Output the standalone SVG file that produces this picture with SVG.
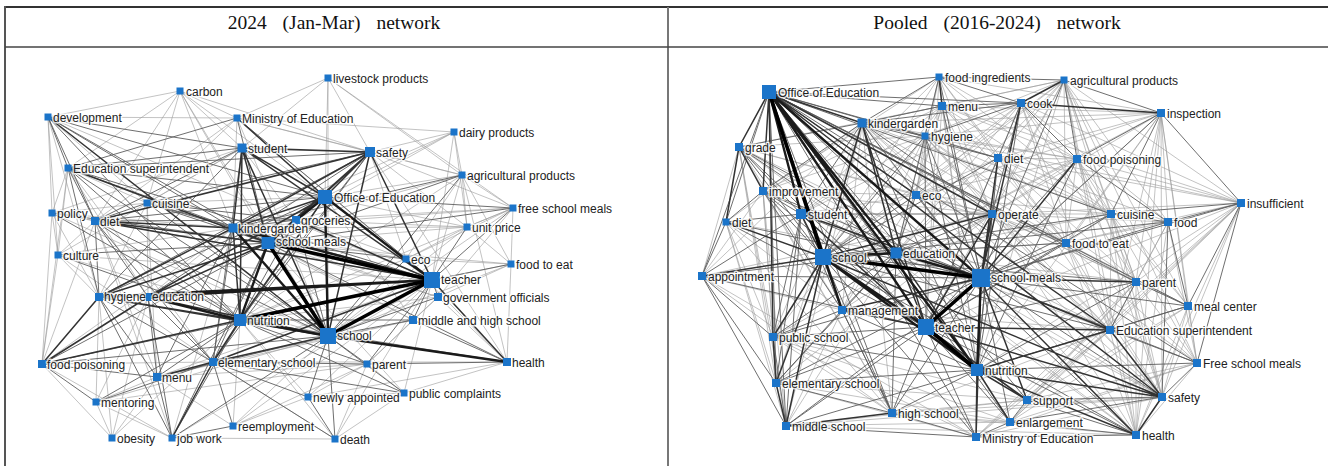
<svg xmlns="http://www.w3.org/2000/svg" width="1328" height="466" viewBox="0 0 1328 466">
<style>
.e0{fill:none;stroke:#9a9a9a;stroke-width:.6}
.e1{fill:none;stroke:#5e5e5e;stroke-width:.9}
.e2{fill:none;stroke:#333;stroke-width:1.5}
.e3{fill:none;stroke:#1a1a1a;stroke-width:2.4}
.e4{fill:none;stroke:#000;stroke-width:3.6}
.nd{fill:#1b74c9}
.lb{font-family:"Liberation Sans",Arial,sans-serif;font-size:12px;fill:#222;stroke:#fff;stroke-width:3;stroke-opacity:.8;paint-order:stroke;stroke-linejoin:round}
.hd{font-family:"Liberation Serif","Times New Roman",serif;font-size:19.5px;fill:#111;word-spacing:11px}
.tb{stroke-width:2;fill:none}
</style>
<rect width="1328" height="466" fill="#fff"/>
<g id="table">
<line class="tb" x1="4" y1="7" x2="1328" y2="7" stroke="#333"/>
<line class="tb" x1="5" y1="6" x2="5" y2="466" stroke="#555"/>
<line class="tb" x1="668" y1="7" x2="668" y2="466" stroke="#777"/>
<line x1="5" y1="47" x2="1328" y2="47" stroke="#444" stroke-width="1.5"/>
<text class="hd" x="334" y="29" text-anchor="middle">2024 (Jan-Mar) network</text>
<text class="hd" x="997" y="29" text-anchor="middle">Pooled (2016-2024) network</text>
</g>
<g id="connectors-left">
<path class="e0" d="M180 91L237 118M180 91L48 117M180 91L242 148M180 91L68 168M180 91L95 221M180 91L325 197M180 91L268 243M180 91L147 203M180 91L233 228M180 91L328 336M48 117L237 118M48 117L147 203M48 117L52 213M48 117L99 297M48 117L58 255M48 117L432 280M237 118L328 78M237 118L147 203M237 118L95 221M237 118L462 175M237 118L454 132M237 118L370 152M237 118L233 228M237 118L328 336M237 118L406 259M328 78L370 152M328 78L462 175M328 78L513 208M328 78L328 336M328 78L242 148M328 78L325 197M454 132L462 175M454 132L370 152M454 132L296 220M454 132L467 227M454 132L325 197M454 132L432 280M454 132L233 228M462 175L513 208M462 175L467 227M462 175L511 264M462 175L406 259M462 175L296 220M462 175L432 280M462 175L325 197M462 175L370 152M462 175L240 320M462 175L507 362M513 208L467 227M513 208L406 259M513 208L511 264M513 208L296 220M513 208L233 228M513 208L328 336M513 208L240 320M513 208L438 297M467 227L511 264M467 227L406 259M467 227L296 220M467 227L328 336M467 227L325 197M467 227L233 228M467 227L268 243M511 264L406 259M511 264L438 297M511 264L328 336M511 264L240 320M511 264L268 243M511 264L507 362M507 362L404 393M507 362L438 297M507 362L308 397M507 362L406 259M507 362L213 362M404 393L367 364M404 393L335 439M404 393L308 397M404 393L432 280M404 393L268 243M335 439L367 364M335 439L213 362M335 439L172 438M335 439L240 320M335 439L432 280M233 426L308 397M233 426L240 320M233 426L328 336M233 426L157 377M233 426L367 364M233 426L432 280M172 438L96 402M172 438L42 364M172 438L432 280M172 438L233 228M172 438L95 221M112 438L96 402M112 438L42 364M112 438L157 377M112 438L99 297M112 438L240 320M112 438L148 297M96 402L99 297M96 402L157 377M96 402L148 297M96 402L367 364M96 402L328 336M42 364L58 255M42 364L52 213M42 364L95 221M42 364L213 362M42 364L233 228M42 364L68 168M157 377L95 221M157 377L147 203M157 377L432 280M157 377L367 364M157 377L413 320M58 255L52 213M58 255L95 221M58 255L99 297M58 255L68 168M58 255L233 228M58 255L328 336M58 255L432 280M58 255L213 362M52 213L68 168M52 213L95 221M52 213L99 297M52 213L233 228M52 213L328 336M52 213L432 280M52 213L147 203M147 203L68 168M147 203L148 297M147 203L99 297M147 203L325 197M68 168L148 297M68 168L213 362M99 297L148 297M148 297L233 228M213 362L413 320M308 397L367 364M308 397L432 280M308 397L240 320M367 364L413 320M367 364L438 297M413 320L438 297M413 320L325 197M413 320L268 243M413 320L233 228M438 297L240 320M438 297L268 243M438 297L233 228M406 259L296 220M406 259L233 228M406 259L240 320M370 152L467 227M370 152L406 259M370 152L507 362M370 152L513 208M370 152L180 91M242 148L147 203M242 148L296 220M242 148L58 255M242 148L52 213"/>
<path class="e1" d="M48 117L233 228M48 117L268 243M48 117L240 320M48 117L242 148M48 117L68 168M48 117L95 221M68 168L233 228M68 168L240 320M68 168L328 336M68 168L432 280M68 168L325 197M68 168L95 221M68 168L99 297M147 203L268 243M147 203L432 280M147 203L328 336M147 203L95 221M147 203L296 220M147 203L233 228M95 221L296 220M95 221L328 336M95 221L240 320M95 221L99 297M95 221L148 297M95 221L213 362M52 213L268 243M52 213L240 320M58 255L240 320M58 255L268 243M99 297L213 362M99 297L157 377M99 297L172 438M148 297L213 362M148 297L157 377M148 297L172 438M42 364L268 243M42 364L328 336M42 364L432 280M42 364L157 377M157 377L240 320M157 377L328 336M157 377L233 228M157 377L172 438M172 438L240 320M172 438L328 336M172 438L268 243M213 362L268 243M213 362L233 228M213 362L367 364M213 362L335 439M367 364L328 336M367 364L432 280M367 364L507 362M367 364L240 320M413 320L328 336M413 320L432 280M413 320L507 362M413 320L240 320M438 297L432 280M438 297L328 336M507 362L240 320M507 362L268 243M404 393L240 320M404 393L328 336M404 393L213 362M308 397L328 336M308 397L213 362M335 439L328 336M335 439L308 397M233 426L213 362M233 426L172 438M237 118L68 168M237 118L268 243M237 118L432 280M242 148L68 168M242 148L213 362M242 148L99 297M242 148L95 221M370 152L68 168M370 152L147 203M370 152L213 362M370 152L99 297M370 152L240 320M370 152L148 297M325 197L296 220M325 197L95 221M325 197L99 297M325 197L213 362M325 197L513 208M325 197L48 117M296 220L328 336M296 220L240 320M296 220L233 228M406 259L328 336M406 259L325 197M406 259L268 243M462 175L233 228M462 175L328 336M462 175L268 243M513 208L268 243M513 208L432 280M467 227L432 280M511 264L432 280M96 402L240 320M96 402L213 362M96 402L42 364"/>
<path class="e2" d="M370 152L242 148M370 152L233 228M370 152L268 243M370 152L325 197M370 152L95 221M370 152L296 220M242 148L233 228M242 148L268 243M242 148L240 320M325 197L233 228M325 197L240 320M325 197L242 148M325 197L148 297M328 336L148 297M328 336L99 297M328 336L242 148M328 336L370 152M328 336L213 362M268 243L233 228M268 243L148 297M268 243L99 297M268 243L95 221M240 320L99 297M240 320L213 362M240 320L233 228M240 320L42 364M432 280L213 362M432 280L95 221M432 280L296 220M432 280L242 148M432 280L370 152M432 280L507 362M237 118L325 197M213 362L157 377M213 362L172 438M233 228L95 221M233 228L99 297M148 297L42 364M99 297L42 364M48 117L328 336M68 168L268 243"/>
<path class="e3" d="M432 280L148 297M432 280L233 228M328 336L240 320M328 336L325 197M328 336L507 362M325 197L268 243M268 243L240 320M432 280L325 197M328 336L233 228M240 320L148 297M432 280L99 297"/>
<path class="e4" d="M432 280L328 336M432 280L268 243M432 280L240 320M328 336L268 243"/>
</g>
<g id="connectors-right">
<path class="e0" d="M1241 203L1064 80M1241 203L1021 103M1241 203L1077 159M1241 203L1066 243M1241 203L1136 282M1241 203L1110 330M1241 203L1162 397M1241 203L1136 435M1241 203L992 214M1241 203L998 158M1241 203L1027 400M1241 203L977 370M1241 203L926 327M1241 203L1010 422M1241 203L976 437M1241 203L925 136M1241 203L942 106M1161 113L939 77M1161 113L942 106M1161 113L862 123M1161 113L925 136M1161 113L998 158M1161 113L992 214M1161 113L1168 222M1161 113L1066 243M1161 113L1136 282M1161 113L1188 306M1161 113L1110 330M1161 113L1197 363M1161 113L1162 397M1161 113L1136 435M1161 113L926 327M1161 113L896 253M1161 113L916 195M1161 113L977 370M1064 80L942 106M1064 80L862 123M1064 80L925 136M1064 80L998 158M1064 80L992 214M1064 80L1111 214M1064 80L1168 222M1064 80L1066 243M1064 80L1136 282M1064 80L1188 306M1064 80L1110 330M1064 80L1197 363M1064 80L1162 397M1064 80L1136 435M1064 80L926 327M1064 80L977 370M1064 80L896 253M1064 80L916 195M1064 80L823 257M939 77L998 158M939 77L1077 159M939 77L992 214M939 77L916 195M939 77L896 253M939 77L823 257M939 77L801 214M939 77L763 191M939 77L926 327M939 77L977 370M939 77L1111 214M939 77L1066 243M1021 103L1111 214M1021 103L1168 222M1021 103L1066 243M1021 103L916 195M1021 103L896 253M1021 103L801 214M1021 103L823 257M1021 103L926 327M1021 103L1136 282M1021 103L1110 330M942 106L925 136M942 106L998 158M942 106L1077 159M942 106L992 214M942 106L916 195M942 106L896 253M942 106L801 214M942 106L823 257M942 106L763 191M942 106L739 147M942 106L926 327M942 106L977 370M942 106L1111 214M942 106L1066 243M862 123L726 222M862 123L916 195M862 123L1077 159M862 123L1111 214M862 123L1066 243M862 123L773 337M862 123L776 383M862 123L786 426M862 123L892 413M862 123L842 310M862 123L702 276M862 123L1110 330M862 123L1162 397M862 123L1136 435M925 136L998 158M925 136L1077 159M925 136L916 195M925 136L992 214M925 136L801 214M925 136L763 191M925 136L739 147M925 136L1111 214M925 136L1066 243M925 136L1136 282M925 136L1110 330M925 136L1162 397M925 136L842 310M925 136L773 337M739 147L702 276M739 147L773 337M739 147L776 383M739 147L786 426M739 147L916 195M739 147L842 310M739 147L892 413M739 147L1162 397M739 147L1110 330M739 147L1136 435M739 147L992 214M763 191L702 276M763 191L773 337M763 191L776 383M763 191L786 426M763 191L916 195M763 191L892 413M763 191L992 214M726 222L773 337M726 222L776 383M726 222L786 426M726 222L896 253M726 222L842 310M726 222L892 413M702 276L842 310M702 276L892 413M702 276L976 437M702 276L992 214M773 337L892 413M773 337L976 437M773 337L1010 422M773 337L1027 400M773 337L992 214M776 383L976 437M776 383L1010 422M776 383L1027 400M776 383L992 214M786 426L1010 422M786 426L1027 400M786 426L842 310M786 426L896 253M786 426L1136 435M786 426L1162 397M892 413L1010 422M892 413L1027 400M892 413L1136 435M892 413L1162 397M892 413L1110 330M976 437L1162 397M976 437L1110 330M976 437L1197 363M976 437L1136 282M1010 422L1110 330M1010 422L1197 363M1010 422L1136 282M1010 422L1188 306M1027 400L1110 330M1027 400L1197 363M1027 400L1136 282M1027 400L1188 306M1136 435L1110 330M1136 435L1197 363M1136 435L1188 306M1136 435L1136 282M1136 435L1066 243M1136 435L1111 214M1136 435L1168 222M1136 435L992 214M1136 435L896 253M1162 397L1188 306M1162 397L1136 282M1162 397L1066 243M1162 397L1111 214M1162 397L992 214M1162 397L896 253M1162 397L1077 159M1162 397L998 158M1197 363L1188 306M1197 363L1136 282M1197 363L1066 243M1197 363L1111 214M1197 363L1168 222M1197 363L992 214M1188 306L1066 243M1188 306L1111 214M1188 306L992 214M1188 306L1077 159M1110 330L1066 243M1110 330L1111 214M1110 330L1168 222M1110 330L992 214M1110 330L896 253M1110 330L842 310M1136 282L1066 243M1136 282L1111 214M1136 282L1168 222M1136 282L992 214M1136 282L1077 159M1136 282L998 158M1136 282L896 253M1066 243L1111 214M1066 243L1168 222M1066 243L992 214M1066 243L1077 159M1066 243L998 158M1066 243L896 253M1066 243L916 195M1168 222L992 214M1168 222L998 158M1111 214L992 214M1111 214L1077 159M1111 214L998 158M1111 214L896 253M1111 214L916 195M1077 159L998 158M1077 159L992 214M1077 159L916 195M1077 159L896 253M998 158L992 214M998 158L916 195M998 158L896 253M992 214L916 195M992 214L842 310M916 195L801 214M916 195L842 310"/>
<path class="e1" d="M769 92L726 222M769 92L702 276M769 92L776 383M769 92L786 426M769 92L925 136M769 92L942 106M769 92L939 77M769 92L916 195M769 92L1111 214M769 92L1066 243M769 92L1136 282M769 92L1136 435M769 92L1027 400M769 92L1010 422M769 92L976 437M769 92L892 413M769 92L1188 306M769 92L1197 363M769 92L998 158M769 92L1021 103M823 257L763 191M823 257L739 147M823 257L892 413M823 257L925 136M823 257L916 195M823 257L1066 243M823 257L1136 282M823 257L1110 330M823 257L1136 435M823 257L1027 400M823 257L976 437M823 257L1111 214M823 257L1168 222M823 257L998 158M981 278L862 123M981 278L925 136M981 278L942 106M981 278L939 77M981 278L1064 80M981 278L1161 113M981 278L1111 214M981 278L1168 222M981 278L1066 243M981 278L1188 306M981 278L1197 363M981 278L1162 397M981 278L1010 422M981 278L773 337M981 278L776 383M981 278L892 413M981 278L786 426M981 278L702 276M981 278L726 222M981 278L739 147M981 278L763 191M981 278L916 195M981 278L1241 203M926 327L925 136M926 327L1136 282M926 327L1136 435M926 327L1010 422M926 327L976 437M926 327L892 413M926 327L776 383M926 327L773 337M926 327L786 426M926 327L702 276M926 327L1077 159M926 327L1066 243M926 327L1111 214M926 327L998 158M926 327L763 191M926 327L739 147M926 327L726 222M977 370L1136 282M977 370L1188 306M977 370L1197 363M977 370L892 413M977 370L862 123M977 370L925 136M977 370L1021 103M977 370L998 158M977 370L1077 159M977 370L992 214M977 370L842 310M977 370L776 383M977 370L773 337M977 370L786 426M896 253L801 214M896 253L842 310M896 253L925 136M896 253L916 195M896 253L992 214M896 253L763 191M896 253L739 147M896 253L702 276M896 253L773 337M896 253L776 383M896 253L892 413M801 214L842 310M801 214L862 123M801 214L763 191M801 214L739 147M801 214L726 222M801 214L702 276M801 214L773 337M801 214L776 383M801 214L786 426M801 214L992 214M862 123L925 136M862 123L942 106M862 123L739 147M862 123L763 191M862 123L992 214M862 123L998 158M862 123L1021 103M939 77L1021 103M939 77L1064 80M939 77L862 123M939 77L925 136M1021 103L942 106M1021 103L925 136M1021 103L998 158M1021 103L1077 159M1021 103L992 214M1064 80L1161 113M1064 80L1077 159M1161 113L1077 159M1161 113L1111 214M1161 113L1241 203M1241 203L1168 222M1241 203L1111 214M1241 203L1188 306M1241 203L1197 363M1168 222L1111 214M1168 222L1077 159M1168 222L1162 397M1168 222L1188 306M1188 306L1136 282M1188 306L1110 330M1197 363L1110 330M1197 363L1162 397M1136 282L1110 330M1162 397L1027 400M1162 397L1010 422M1136 435L1010 422M1136 435L1027 400M1136 435L976 437M1010 422L1027 400M1010 422L976 437M976 437L892 413M976 437L786 426M892 413L776 383M892 413L842 310M786 426L773 337M786 426L702 276M776 383L702 276M773 337L702 276M702 276L726 222M726 222L763 191M763 191L842 310M842 310L773 337M842 310L776 383M842 310L892 413"/>
<path class="e2" d="M769 92L763 191M769 92L739 147M769 92L773 337M769 92L862 123M769 92L992 214M769 92L1110 330M769 92L1162 397M823 257L801 214M823 257L842 310M823 257L702 276M823 257L773 337M823 257L776 383M823 257L786 426M823 257L726 222M823 257L862 123M823 257L992 214M823 257L1162 397M981 278L1136 282M981 278L992 214M981 278L1021 103M981 278L998 158M981 278L1077 159M981 278L1110 330M981 278L1136 435M981 278L1027 400M981 278L976 437M981 278L842 310M981 278L801 214M926 327L842 310M926 327L801 214M926 327L862 123M926 327L992 214M926 327L1110 330M926 327L1162 397M926 327L1027 400M926 327L896 253M977 370L1027 400M977 370L1010 422M977 370L976 437M977 370L1136 435M977 370L1162 397M977 370L1110 330M977 370L896 253M862 123L896 253M1161 113L1021 103M1064 80L1021 103M939 77L942 106M739 147L763 191M739 147L726 222M773 337L776 383M776 383L786 426M786 426L892 413M1162 397L1110 330M1162 397L1136 435"/>
<path class="e3" d="M769 92L981 278M769 92L896 253M769 92L926 327M823 257L926 327M823 257L896 253M981 278L977 370M896 253L981 278M823 257L977 370M769 92L977 370M769 92L842 310M769 92L801 214"/>
<path class="e4" d="M823 257L981 278M981 278L926 327M926 327L977 370M769 92L823 257"/>
</g>
<g id="nodes-left">
<g id="l-carbon"><rect class="nd" x="176.5" y="87.5" width="7" height="7"/><text class="lb" x="186" y="96">carbon</text></g>
<g id="l-livestock-products"><rect class="nd" x="324.5" y="74.5" width="7" height="7"/><text class="lb" x="333" y="83">livestock products</text></g>
<g id="l-development"><rect class="nd" x="44.5" y="113.5" width="7" height="7"/><text class="lb" x="53" y="122">development</text></g>
<g id="l-ministry"><rect class="nd" x="233.5" y="114.5" width="7" height="7"/><text class="lb" x="242" y="123">Ministry of Education</text></g>
<g id="l-student"><rect class="nd" x="237.5" y="143.5" width="9" height="9"/><text class="lb" x="248" y="153">student</text></g>
<g id="l-dairy"><rect class="nd" x="450.5" y="128.5" width="7" height="7"/><text class="lb" x="459" y="137">dairy products</text></g>
<g id="l-safety"><rect class="nd" x="365" y="147" width="10" height="10"/><text class="lb" x="376" y="157">safety</text></g>
<g id="l-edusup"><rect class="nd" x="64.5" y="164.5" width="7" height="7"/><text class="lb" x="73" y="173">Education superintendent</text></g>
<g id="l-agri"><rect class="nd" x="458.5" y="171.5" width="7" height="7"/><text class="lb" x="467" y="180">agricultural products</text></g>
<g id="l-office"><rect class="nd" x="318" y="190" width="14" height="14"/><text class="lb" x="334" y="202">Office of Education</text></g>
<g id="l-cuisine"><rect class="nd" x="143.5" y="199.5" width="7" height="7"/><text class="lb" x="152" y="208">cuisine</text></g>
<g id="l-freemeals"><rect class="nd" x="509.5" y="204.5" width="7" height="7"/><text class="lb" x="518" y="213">free school meals</text></g>
<g id="l-policy"><rect class="nd" x="48.5" y="209.5" width="7" height="7"/><text class="lb" x="57" y="218">policy</text></g>
<g id="l-diet"><rect class="nd" x="91" y="217" width="8" height="8"/><text class="lb" x="100" y="226">diet</text></g>
<g id="l-groceries"><rect class="nd" x="292" y="216" width="8" height="8"/><text class="lb" x="301" y="225">groceries</text></g>
<g id="l-unitprice"><rect class="nd" x="463.5" y="223.5" width="7" height="7"/><text class="lb" x="472" y="232">unit price</text></g>
<g id="l-kindergarden"><rect class="nd" x="228.5" y="223.5" width="9" height="9"/><text class="lb" x="238" y="233">kindergarden</text></g>
<g id="l-schoolmeals"><rect class="nd" x="261.5" y="237" width="13" height="12"/><text class="lb" x="276" y="246">school meals</text></g>
<g id="l-culture"><rect class="nd" x="54.5" y="251.5" width="7" height="7"/><text class="lb" x="63" y="260">culture</text></g>
<g id="l-eco"><rect class="nd" x="402.5" y="255.5" width="7" height="7"/><text class="lb" x="411" y="264">eco</text></g>
<g id="l-foodtoeat"><rect class="nd" x="507.5" y="260.5" width="7" height="7"/><text class="lb" x="516" y="269">food to eat</text></g>
<g id="l-teacher"><rect class="nd" x="424" y="272" width="16" height="16"/><text class="lb" x="441" y="284">teacher</text></g>
<g id="l-hygiene"><rect class="nd" x="95" y="293" width="8" height="8"/><text class="lb" x="104" y="301">hygiene</text></g>
<g id="l-education"><rect class="nd" x="146" y="293" width="5" height="8"/><text class="lb" x="152" y="301">education</text></g>
<g id="l-govofficials"><rect class="nd" x="434" y="293" width="8" height="8"/><text class="lb" x="443" y="302">government officials</text></g>
<g id="l-nutrition"><rect class="nd" x="234" y="314" width="12" height="12"/><text class="lb" x="247" y="325">nutrition</text></g>
<g id="l-middlehigh"><rect class="nd" x="409" y="316" width="8" height="8"/><text class="lb" x="418" y="325">middle and high school</text></g>
<g id="l-school"><rect class="nd" x="320" y="328" width="16" height="16"/><text class="lb" x="337" y="340">school</text></g>
<g id="l-foodpoisoning"><rect class="nd" x="38" y="360" width="8" height="8"/><text class="lb" x="47" y="369">food poisoning</text></g>
<g id="l-elementary"><rect class="nd" x="209" y="358" width="8" height="8"/><text class="lb" x="218" y="367">elementary school</text></g>
<g id="l-parent"><rect class="nd" x="363.5" y="360.5" width="7" height="7"/><text class="lb" x="372" y="369">parent</text></g>
<g id="l-health"><rect class="nd" x="503" y="358" width="8" height="8"/><text class="lb" x="512" y="367">health</text></g>
<g id="l-menu"><rect class="nd" x="153" y="373" width="8" height="8"/><text class="lb" x="162" y="382">menu</text></g>
<g id="l-publiccomplaints"><rect class="nd" x="400.5" y="389.5" width="7" height="7"/><text class="lb" x="409" y="398">public complaints</text></g>
<g id="l-newly"><rect class="nd" x="304.5" y="393.5" width="7" height="7"/><text class="lb" x="313" y="402">newly appointed</text></g>
<g id="l-mentoring"><rect class="nd" x="92.5" y="398.5" width="7" height="7"/><text class="lb" x="101" y="407">mentoring</text></g>
<g id="l-reemployment"><rect class="nd" x="229.5" y="422.5" width="7" height="7"/><text class="lb" x="238" y="431">reemployment</text></g>
<g id="l-obesity"><rect class="nd" x="108.5" y="434.5" width="7" height="7"/><text class="lb" x="117" y="443">obesity</text></g>
<g id="l-jobwork"><rect class="nd" x="168.5" y="434.5" width="7" height="7"/><text class="lb" x="177" y="443">job work</text></g>
<g id="l-death"><rect class="nd" x="331.5" y="435.5" width="7" height="7"/><text class="lb" x="340" y="444">death</text></g>
</g>
<g id="nodes-right">
<g id="r-foodingredients"><rect class="nd" x="935.5" y="73.5" width="7" height="7"/><text class="lb" x="945" y="82">food ingredients</text></g>
<g id="r-agri"><rect class="nd" x="1060.5" y="76.5" width="7" height="7"/><text class="lb" x="1070" y="85">agricultural products</text></g>
<g id="r-office"><rect class="nd" x="762" y="85" width="14" height="14"/><text class="lb" x="778" y="97">Office of Education</text></g>
<g id="r-cook"><rect class="nd" x="1017" y="99" width="8" height="8"/><text class="lb" x="1027" y="108">cook</text></g>
<g id="r-menu"><rect class="nd" x="938" y="102" width="8" height="8"/><text class="lb" x="948" y="111">menu</text></g>
<g id="r-inspection"><rect class="nd" x="1157" y="109" width="8" height="8"/><text class="lb" x="1167" y="118">inspection</text></g>
<g id="r-kindergarden"><rect class="nd" x="857.5" y="118.5" width="9" height="9"/><text class="lb" x="868" y="128">kindergarden</text></g>
<g id="r-hygiene"><rect class="nd" x="921.5" y="132.5" width="7" height="7"/><text class="lb" x="931" y="141">hygiene</text></g>
<g id="r-grade"><rect class="nd" x="735" y="143" width="8" height="8"/><text class="lb" x="745" y="152">grade</text></g>
<g id="r-diet2"><rect class="nd" x="994" y="154" width="8" height="8"/><text class="lb" x="1004" y="163">diet</text></g>
<g id="r-foodpoisoning"><rect class="nd" x="1073" y="155" width="8" height="8"/><text class="lb" x="1083" y="164">food poisoning</text></g>
<g id="r-improvement"><rect class="nd" x="759" y="187" width="8" height="8"/><text class="lb" x="769" y="196">improvement</text></g>
<g id="r-eco"><rect class="nd" x="912" y="191" width="8" height="8"/><text class="lb" x="922" y="200">eco</text></g>
<g id="r-insufficient"><rect class="nd" x="1237" y="199" width="8" height="8"/><text class="lb" x="1247" y="208">insufficient</text></g>
<g id="r-student"><rect class="nd" x="796" y="209" width="10" height="10"/><text class="lb" x="808" y="219">student</text></g>
<g id="r-operate"><rect class="nd" x="988" y="210" width="8" height="8"/><text class="lb" x="998" y="219">operate</text></g>
<g id="r-cuisine"><rect class="nd" x="1107" y="210" width="8" height="8"/><text class="lb" x="1117" y="219">cuisine</text></g>
<g id="r-diet"><rect class="nd" x="722.5" y="218.5" width="7" height="7"/><text class="lb" x="732" y="227">diet</text></g>
<g id="r-food"><rect class="nd" x="1164" y="218" width="8" height="8"/><text class="lb" x="1174" y="227">food</text></g>
<g id="r-foodtoeat"><rect class="nd" x="1062" y="239" width="8" height="8"/><text class="lb" x="1072" y="248">food to eat</text></g>
<g id="r-education"><rect class="nd" x="890.5" y="247.5" width="11" height="11"/><text class="lb" x="903" y="258">education</text></g>
<g id="r-school"><rect class="nd" x="815" y="249" width="16" height="16"/><text class="lb" x="832" y="262">school</text></g>
<g id="r-appointment"><rect class="nd" x="698" y="272" width="8" height="8"/><text class="lb" x="708" y="281">appointment</text></g>
<g id="r-schoolmeals"><rect class="nd" x="972" y="269" width="18" height="18"/><text class="lb" x="991" y="282">school meals</text></g>
<g id="r-parent"><rect class="nd" x="1132" y="278" width="8" height="8"/><text class="lb" x="1142" y="287">parent</text></g>
<g id="r-mealcenter"><rect class="nd" x="1184" y="302" width="8" height="8"/><text class="lb" x="1194" y="311">meal center</text></g>
<g id="r-management"><rect class="nd" x="838" y="306" width="8" height="8"/><text class="lb" x="848" y="315">management</text></g>
<g id="r-teacher"><rect class="nd" x="918" y="319" width="16" height="16"/><text class="lb" x="935" y="332">teacher</text></g>
<g id="r-edusup"><rect class="nd" x="1106" y="326" width="8" height="8"/><text class="lb" x="1116" y="335">Education superintendent</text></g>
<g id="r-publicschool"><rect class="nd" x="769" y="333" width="8" height="8"/><text class="lb" x="779" y="342">public school</text></g>
<g id="r-freemeals"><rect class="nd" x="1193" y="359" width="8" height="8"/><text class="lb" x="1203" y="368">Free school meals</text></g>
<g id="r-nutrition"><rect class="nd" x="971" y="364" width="12" height="12"/><text class="lb" x="985" y="375">nutrition</text></g>
<g id="r-elementary"><rect class="nd" x="772" y="379" width="8" height="8"/><text class="lb" x="782" y="388">elementary school</text></g>
<g id="r-safety"><rect class="nd" x="1158" y="393" width="8" height="8"/><text class="lb" x="1168" y="402">safety</text></g>
<g id="r-support"><rect class="nd" x="1023" y="396" width="8" height="8"/><text class="lb" x="1033" y="405">support</text></g>
<g id="r-highschool"><rect class="nd" x="888" y="409" width="8" height="8"/><text class="lb" x="898" y="418">high school</text></g>
<g id="r-enlargement"><rect class="nd" x="1006" y="418" width="8" height="8"/><text class="lb" x="1016" y="427">enlargement</text></g>
<g id="r-middleschool"><rect class="nd" x="782" y="422" width="8" height="8"/><text class="lb" x="792" y="431">middle school</text></g>
<g id="r-health"><rect class="nd" x="1132" y="431" width="8" height="8"/><text class="lb" x="1142" y="440">health</text></g>
<g id="r-ministry"><rect class="nd" x="972" y="433" width="8" height="8"/><text class="lb" x="982" y="443">Ministry of Education</text></g>
</g>
</svg>
